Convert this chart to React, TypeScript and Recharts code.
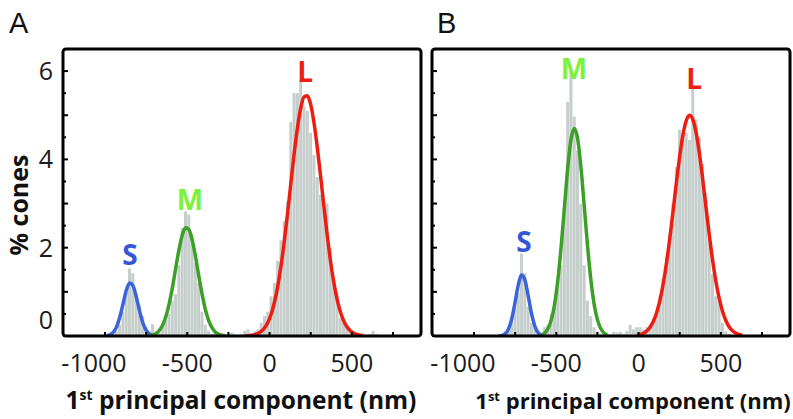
import React from 'react';
import { ComposedChart, Bar, Line, XAxis, YAxis, ReferenceDot } from 'recharts';

// Histogram bin centres (nm), 20 nm bins
const binCenters = [
  -990, -970, -950, -930, -910, -890, -870, -850, -830, -810,
  -790, -770, -750, -730, -710, -690, -670, -650, -630, -610,
  -590, -570, -550, -530, -510, -490, -470, -450, -430, -410,
  -390, -370, -350, -330, -310, -290, -270, -250, -230, -210,
  -190, -170, -150, -130, -110, -90, -70, -50, -30, -10,
  10, 30, 50, 70, 90, 110, 130, 150, 170, 190,
  210, 230, 250, 270, 290, 310, 330, 350, 370, 390,
  410, 430, 450, 470, 490, 510, 530, 550, 570, 590,
  610, 630, 650, 670, 690,
];

// % cones per bin, panel A
const histA = [
  0, 0, 0.03, 0.1, 0.25, 0.55, 1.0, 1.53, 1.42, 0.95,
  0.7, 0.45, 0.2, 0.1, 0.27, 0.05, 0.08, 0.2, 0.35, 0.5,
  0.8, 0.95, 1.6, 2.45, 2.82, 2.75, 2.3, 1.65, 1.2, 0.55,
  0.25, 0.12, 0.05, 0.08, 0.05, 0.03, 0.05, 0.03, 0.08, 0.05,
  0.02, 0.05, 0.12, 0.15, 0.05, 0.1, 0.15, 0.3, 0.45, 0.55,
  0.9, 1.2, 1.7, 2.17, 2.6, 3.05, 4.85, 5.5, 5.5, 5.8,
  5.2, 5.1, 4.6, 4.1, 3.6, 3.2, 3.0, 3.0, 2.0, 1.2,
  1.0, 0.4, 0.3, 0.2, 0.1, 0.05, 0.03, 0, 0.03, 0,
  0.05, 0.12, 0.05, 0, 0,
];

// % cones per bin, panel B
const histB = [
  0, 0, 0, 0, 0, 0, 0, 0.02, 0.05, 0.1,
  0.2, 0.4, 0.65, 0.97, 1.87, 1.42, 0.66, 0.3, 0.2, 0.08,
  0.05, 0.2, 0.25, 0.5, 0.8, 1.2, 1.6, 2.8, 5.3, 6.0,
  4.97, 4.2, 3.0, 1.6, 0.8, 0.45, 0.2, 0.1, 0.05, 0.03,
  0.03, 0.05, 0.1, 0.08, 0.1, 0.05, 0.12, 0.25, 0.15, 0.2,
  0.2, 0.15, 0.2, 0.25, 0.3, 0.5, 0.9, 1.3, 1.8, 2.3,
  3.0, 3.83, 4.67, 4.5, 4.6, 4.44, 5.6, 4.9, 4.5, 3.9,
  3.24, 2.25, 1.4, 0.9, 0.8, 0.3, 0.1, 0.05, 0, 0,
  0, 0, 0, 0, 0,
];

// Fitted curves: [nm, % cones]
const curveSA: [number, number][] = [
  [-990, 0.007], [-970, 0.025], [-950, 0.08], [-930, 0.2], [-910, 0.43], [-890, 0.73],
  [-870, 1.04], [-850, 1.2], [-830, 1.14], [-810, 0.89], [-790, 0.57], [-770, 0.3],
  [-750, 0.13], [-730, 0.046], [-710, 0.013],
];
const curveMA: [number, number][] = [
  [-730, 0.01], [-710, 0.025], [-690, 0.058], [-670, 0.125], [-650, 0.245], [-630, 0.44],
  [-610, 0.73], [-590, 1.1], [-570, 1.54], [-550, 1.96], [-530, 2.29], [-510, 2.45],
  [-490, 2.41], [-470, 2.17], [-450, 1.8], [-430, 1.36], [-410, 0.95], [-390, 0.6],
  [-370, 0.35], [-350, 0.19], [-330, 0.093], [-310, 0.042], [-290, 0.017], [-270, 0.006],
];
const curveLA: [number, number][] = [
  [-150, 0.0035], [-130, 0.0075], [-110, 0.016], [-90, 0.031], [-70, 0.059], [-50, 0.107],
  [-30, 0.187], [-10, 0.313], [10, 0.5], [30, 0.77], [50, 1.13], [70, 1.6], [90, 2.16],
  [110, 2.8], [130, 3.48], [150, 4.15], [170, 4.73], [190, 5.17], [210, 5.42], [230, 5.44],
  [250, 5.24], [270, 4.83], [290, 4.27], [310, 3.62], [330, 2.94], [350, 2.29], [370, 1.7],
  [390, 1.22], [410, 0.835], [430, 0.55], [450, 0.345], [470, 0.208], [490, 0.12],
  [510, 0.066], [530, 0.035], [550, 0.018], [570, 0.009],
];
const curveSB: [number, number][] = [
  [-850, 0.002], [-830, 0.012], [-810, 0.05], [-790, 0.16], [-770, 0.4], [-750, 0.77],
  [-730, 1.17], [-710, 1.38], [-690, 1.26], [-670, 0.9], [-650, 0.5], [-630, 0.22],
  [-610, 0.073], [-590, 0.019], [-570, 0.004],
];
const curveMB: [number, number][] = [
  [-590, 0.026], [-570, 0.07], [-550, 0.168], [-530, 0.37], [-510, 0.72], [-490, 1.28],
  [-470, 2.04], [-450, 2.94], [-430, 3.82], [-410, 4.46], [-390, 4.7], [-370, 4.46],
  [-350, 3.82], [-330, 2.94], [-310, 2.04], [-290, 1.28], [-270, 0.72], [-250, 0.37],
  [-230, 0.168], [-210, 0.07], [-190, 0.026],
];
const curveLB: [number, number][] = [
  [-10, 0.017], [10, 0.033], [30, 0.063], [50, 0.115], [70, 0.2], [90, 0.334], [110, 0.533],
  [130, 0.81], [150, 1.19], [170, 1.66], [190, 2.22], [210, 2.84], [230, 3.48], [250, 4.07],
  [270, 4.56], [290, 4.88], [310, 5.0], [330, 4.9], [350, 4.6], [370, 4.12], [390, 3.54],
  [410, 2.9], [430, 2.28], [450, 1.71], [470, 1.23], [490, 0.85], [510, 0.56], [530, 0.35],
  [550, 0.21], [570, 0.12], [590, 0.067], [610, 0.035], [630, 0.017],
];

// Axis ticks
const xTicks = [-1000, -750, -500, -250, 0, 250, 500, 750];
const xTickLabels = [-1000, -500, 0, 500];
const yTicks = [0, 0.5, 1, 1.5, 2, 2.5, 3, 3.5, 4, 4.5, 5, 5.5, 6];
const yTickLabels = [0, 2, 4, 6];

// Curve label positions [name, x, y]
const labelsA: [string, number, number][] = [['S', -848, 1.83], ['M', -483, 3.08], ['L', 216, 5.97]];
const labelsB: [string, number, number][] = [['S', -696, 2.12], ['M', -392, 6.05], ['L', 337, 5.82]];

const FONT = "'Open Sans', 'Liberation Sans', sans-serif";
const BAR = '#c6cecc';
const BLUE = '#3a63dc';
const GREEN = '#3c9f27';
const RED = '#ee1d12';
const LABEL_COLORS: Record<string, string> = { S: '#3456d8', M: '#7cf23a', L: '#ee1d12' };

function buildRows(hist: number[], s: [number, number][], m: [number, number][], l: [number, number][]) {
  const ms = new Map(s);
  const mm = new Map(m);
  const ml = new Map(l);
  return binCenters.map((x, i) => ({
    x,
    h: hist[i],
    s: ms.has(x) ? ms.get(x) : null,
    m: mm.has(x) ? mm.get(x) : null,
    l: ml.has(x) ? ml.get(x) : null,
  }));
}

const rowsA = buildRows(histA, curveSA, curveMA, curveLA);
const rowsB = buildRows(histB, curveSB, curveMB, curveLB);

const renderXTick = (props: any) => {
  const { x, y, payload } = props;
  const v = payload.value;
  const labeled = xTickLabels.includes(v);
  return (
    <g key={`xt-${v}`}>
      <line x1={x} x2={x} y1={y} y2={y - 4} stroke="#000" strokeWidth={2} />
      {labeled && (
        <text x={x + (v === -1000 ? -11 : 0)} y={y + 36} textAnchor="middle" fontFamily={FONT} fontSize={25} fill="#1a1a1a">
          {v}
        </text>
      )}
    </g>
  );
};

const makeYTick = (showLabels: boolean) => (props: any) => {
  const { x, y, payload } = props;
  const v = payload.value;
  const major = Number.isInteger(v);
  return (
    <g key={`yt-${v}`}>
      <line x1={x} x2={x + (major ? 5 : 3)} y1={y} y2={y} stroke="#000" strokeWidth={2} />
      {showLabels && yTickLabels.includes(v) && (
        <text x={x - 10} y={y + 9 + (v === 0 ? -16 : 0)} textAnchor="end" fontFamily={FONT} fontSize={25} fill="#1a1a1a">
          {v}
        </text>
      )}
    </g>
  );
};

const Panel = ({ rows, labels, width, marginRight, showYLabels }: any) => (
  <ComposedChart
    width={width}
    height={419}
    data={rows}
    margin={{ top: 49, left: 0, right: marginRight, bottom: 0 }}
    barCategoryGap={0}
    barGap={0}
  >
    <XAxis
      dataKey="x"
      type="number"
      domain={[-1255, 920]}
      allowDataOverflow
      ticks={xTicks}
      tick={renderXTick}
      tickLine={false}
      axisLine={false}
      tickSize={0}
      tickMargin={0}
      height={83}
      interval={0}
    />
    <YAxis
      type="number"
      domain={[0, 6.5]}
      allowDataOverflow
      ticks={yTicks}
      tick={makeYTick(showYLabels)}
      tickLine={false}
      axisLine={false}
      tickSize={0}
      tickMargin={0}
      width={63}
      interval={0}
    />
    <Bar dataKey="h" fill={BAR} barSize={3} isAnimationActive={false} />
    <Line dataKey="s" type="monotone" stroke={BLUE} strokeWidth={3.5} dot={false} activeDot={false} isAnimationActive={false} />
    <Line dataKey="m" type="monotone" stroke={GREEN} strokeWidth={3.5} dot={false} activeDot={false} isAnimationActive={false} />
    <Line dataKey="l" type="monotone" stroke={RED} strokeWidth={3.5} dot={false} activeDot={false} isAnimationActive={false} />
    {labels.map(([name, lx, ly]: [string, number, number]) => (
      <ReferenceDot
        key={name}
        x={lx}
        y={ly}
        r={0}
        fill="none"
        stroke="none"
        label={{ value: name, position: 'center', fill: LABEL_COLORS[name], fontSize: 28, fontWeight: 700, fontFamily: FONT }}
      />
    ))}
  </ComposedChart>
);

export default function App() {
  return (
    <div style={{ position: 'absolute', left: 0, top: 0, width: 793, height: 419, background: '#fff', overflow: 'hidden' }}>
      <div style={{ position: 'absolute', left: 0, top: 0 }}>
        <Panel rows={rowsA} labels={labelsA} width={430} marginRight={9} showYLabels={true} />
      </div>
      <div style={{ position: 'absolute', left: 369, top: 0 }}>
        <Panel rows={rowsB} labels={labelsB} width={424} marginRight={3} showYLabels={false} />
      </div>
      <svg width={793} height={419} style={{ position: 'absolute', left: 0, top: 0, pointerEvents: 'none' }}>
        <rect x={63} y={49} width={358} height={287} rx={3} fill="none" stroke="#000" strokeWidth={3} />
        <rect x={432} y={49} width={358} height={287} rx={3} fill="none" stroke="#000" strokeWidth={3} />
        <text x={9} y={33} fontFamily="'Liberation Sans', Arial, sans-serif" fontSize={29} fill="#111">A</text>
        <text x={437} y={33} fontFamily="'Liberation Sans', Arial, sans-serif" fontSize={29} fill="#111">B</text>
        <text transform="translate(28,205) rotate(-90)" textAnchor="middle" fontFamily={FONT} fontWeight={700} fontSize={25} fill="#111">
          % cones
        </text>
        <text x={241} y={409} textAnchor="middle" fontFamily={FONT} fontWeight={700} fontSize={24.5} fill="#111">
          1<tspan dy={-9} fontSize={14}>st</tspan>
          <tspan dy={9}> principal component (nm)</tspan>
        </text>
        <text x={633} y={409} textAnchor="middle" fontFamily={FONT} fontWeight={700} fontSize={22} fill="#111">
          1<tspan dy={-8} fontSize={13}>st</tspan>
          <tspan dy={8}> principal component (nm)</tspan>
        </text>
      </svg>
    </div>
  );
}
